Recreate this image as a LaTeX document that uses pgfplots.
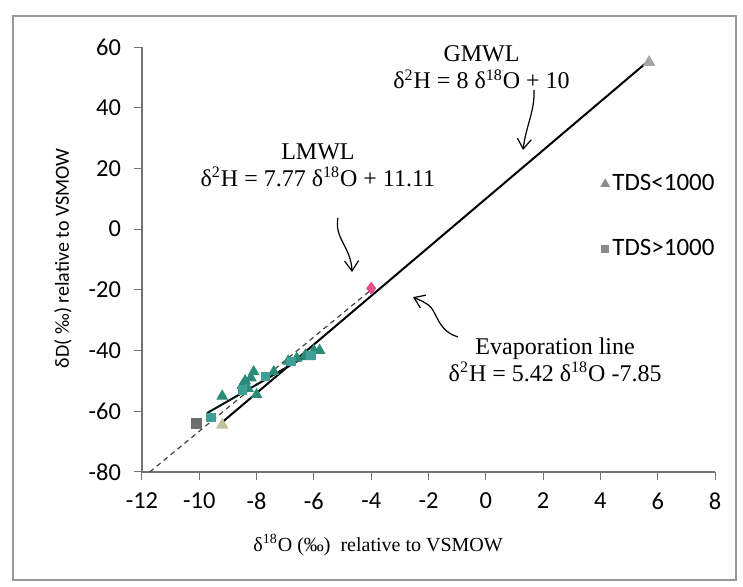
\documentclass[border=0pt]{standalone}
\usepackage{fontspec}
\setmainfont{Liberation Serif}
\newfontfamily\calibri{Carlito}
\usepackage{pgfplots}
\pgfplotsset{compat=1.18}
\usetikzlibrary{arrows.meta}
\definecolor{tealA}{HTML}{2B8A78}
\definecolor{tealB}{HTML}{3E9F96}
\definecolor{greyT}{HTML}{A6A6A6}
\definecolor{greyS}{HTML}{6E6E6E}
\definecolor{beige}{HTML}{C4C29C}
\definecolor{pinkD}{HTML}{E2508C}
\begin{document}
\begin{tikzpicture}
\path[use as bounding box] (-71pt,-57.5pt) rectangle (300.5pt,236pt);
\draw[color=gray!80, line width=0.6pt] (-64.5pt,-54pt) rectangle (297pt,228pt);
\begin{axis}[
  at={(0,0)}, anchor=south west,
  scale only axis, width=286.5pt, height=212.5pt,
  xmin=-12, xmax=8, ymin=-80, ymax=60,
  xtick={-12,-10,...,8}, ytick={-80,-60,...,60},
  axis x line=bottom, axis y line=left,
  axis line style={-, color=gray!90!black, line width=0.6pt},
  tick style={color=gray!90!black, line width=0.5pt},
  tick align=outside, major tick length=4pt,
  /pgf/number format/assume math mode=true,
  ticklabel style={font=\calibri\fontsize{12.2}{13}\selectfont},
  xticklabel style={yshift=-3pt},
  yticklabel style={xshift=-3pt},
  xlabel={δ\textsuperscript{18}O (‰)\ \ relative to VSMOW},
  ylabel={{\calibri δD( ‰) relative to VSMOW}},
  label style={font=\fontsize{12}{13}\selectfont},
  every axis x label/.style={at={(axis description cs:0.412,-0.172)}, anchor=center},
  every axis y label/.style={at={(axis description cs:-0.138,0.503)}, rotate=90, anchor=center},
  legend style={at={(axis description cs:0.79,0.72)}, anchor=north west, draw=none, fill=none,
    font=\calibri\fontsize{12.5}{14}\selectfont, row sep=19pt,
    nodes={inner xsep=1.5pt}},
  legend cell align=left,
  legend image code/.code={\draw[#1] plot coordinates {(0.15cm,0cm)};},
  clip=false,
]
\addlegendimage{only marks, mark=triangle*, mark size=2.4pt, draw=greyS!80, fill=greyS!80}
\addlegendentry{TDS<1000}
\addlegendimage{only marks, mark=square*, mark size=1.8pt, draw=greyS!80, fill=greyS!80}
\addlegendentry{TDS>1000}
% LMWL dashed
\addplot[forget plot, color=black!75, line width=0.6pt, dash pattern=on 2.5pt off 2pt] coordinates {(-11.73,-80) (-4.0,-19.97)};
% GMWL
\addplot[forget plot, black, line width=1pt] coordinates {(-9.2,-63.6) (5.7,55.6)};
% Evaporation line
\addplot[forget plot, black!85!teal, line width=1pt] coordinates {(-9.73,-60.6) (-5.8,-39.3)};
% data
\addplot[forget plot, only marks, mark=triangle*, mark size=3pt, draw=tealA, fill=tealA] coordinates {
(-9.2,-55) (-8.1,-47) (-8.4,-50) (-8.3,-52.5) (-8.0,-54.5) (-8.2,-49) (-7.4,-47)
(-6.9,-43.5) (-6.6,-42.5) (-6.3,-41.5) (-6.0,-40) (-5.8,-40) (-6.2,-42) (-8.5,-51.5)};
\addplot[forget plot, only marks, mark=square*, mark size=2.1pt, draw=tealB, fill=tealB] coordinates {
(-9.6,-62) (-8.5,-53) (-7.7,-48.5) (-6.8,-43.5) (-6.1,-41.5)};
\addplot[forget plot, only marks, mark=triangle*, mark size=3.2pt, draw=beige, fill=beige] coordinates {(-9.2,-64.5)};
\addplot[forget plot, only marks, mark=triangle*, mark size=3.2pt, draw=greyT, fill=greyT] coordinates {(5.7,55)};
\addplot[forget plot, only marks, mark=square*, mark size=2.4pt, draw=greyS, fill=greyS] coordinates {(-10.1,-64)};
\addplot[forget plot, only marks, mark=diamond*, mark size=3pt, draw=pinkD, fill=pinkD] coordinates {(-4.0,-19.5)};
% annotations
\node[align=center, font=\fontsize{12}{13.5}\selectfont] at (axis cs:-0.15,53.2) {GMWL\\δ\textsuperscript{2}H = 8 δ\textsuperscript{18}O + 10};
\node[align=center, font=\fontsize{12}{13.5}\selectfont] at (axis cs:-5.86,21.1) {LMWL\\δ\textsuperscript{2}H = 7.77 δ\textsuperscript{18}O + 11.11};
\node[align=center, font=\fontsize{12}{13.5}\selectfont] at (axis cs:2.42,-43.1) {Evaporation line\\δ\textsuperscript{2}H = 5.42 δ\textsuperscript{18}O -7.85};
\draw[-{Straight Barb[length=5pt,width=7pt]}, line width=0.6pt] (axis cs:1.68,45.8) .. controls (axis cs:1.72,39) and (axis cs:1.4,34) .. (axis cs:1.3,26.1);
\draw[-{Straight Barb[length=5pt,width=7pt]}, line width=0.6pt] (axis cs:-5.16,3.7) .. controls (axis cs:-5.3,-3) and (axis cs:-4.7,-6) .. (axis cs:-4.67,-14.1);
\draw[-{Straight Barb[length=5pt,width=7pt]}, line width=0.6pt] (axis cs:-0.97,-35.5) .. controls (axis cs:-1.7,-33.5) and (axis cs:-1.7,-27) .. (axis cs:-2.0,-25) .. controls (axis cs:-2.2,-23.8) .. (axis cs:-2.54,-22.4);
\end{axis}
\end{tikzpicture}
\end{document}
